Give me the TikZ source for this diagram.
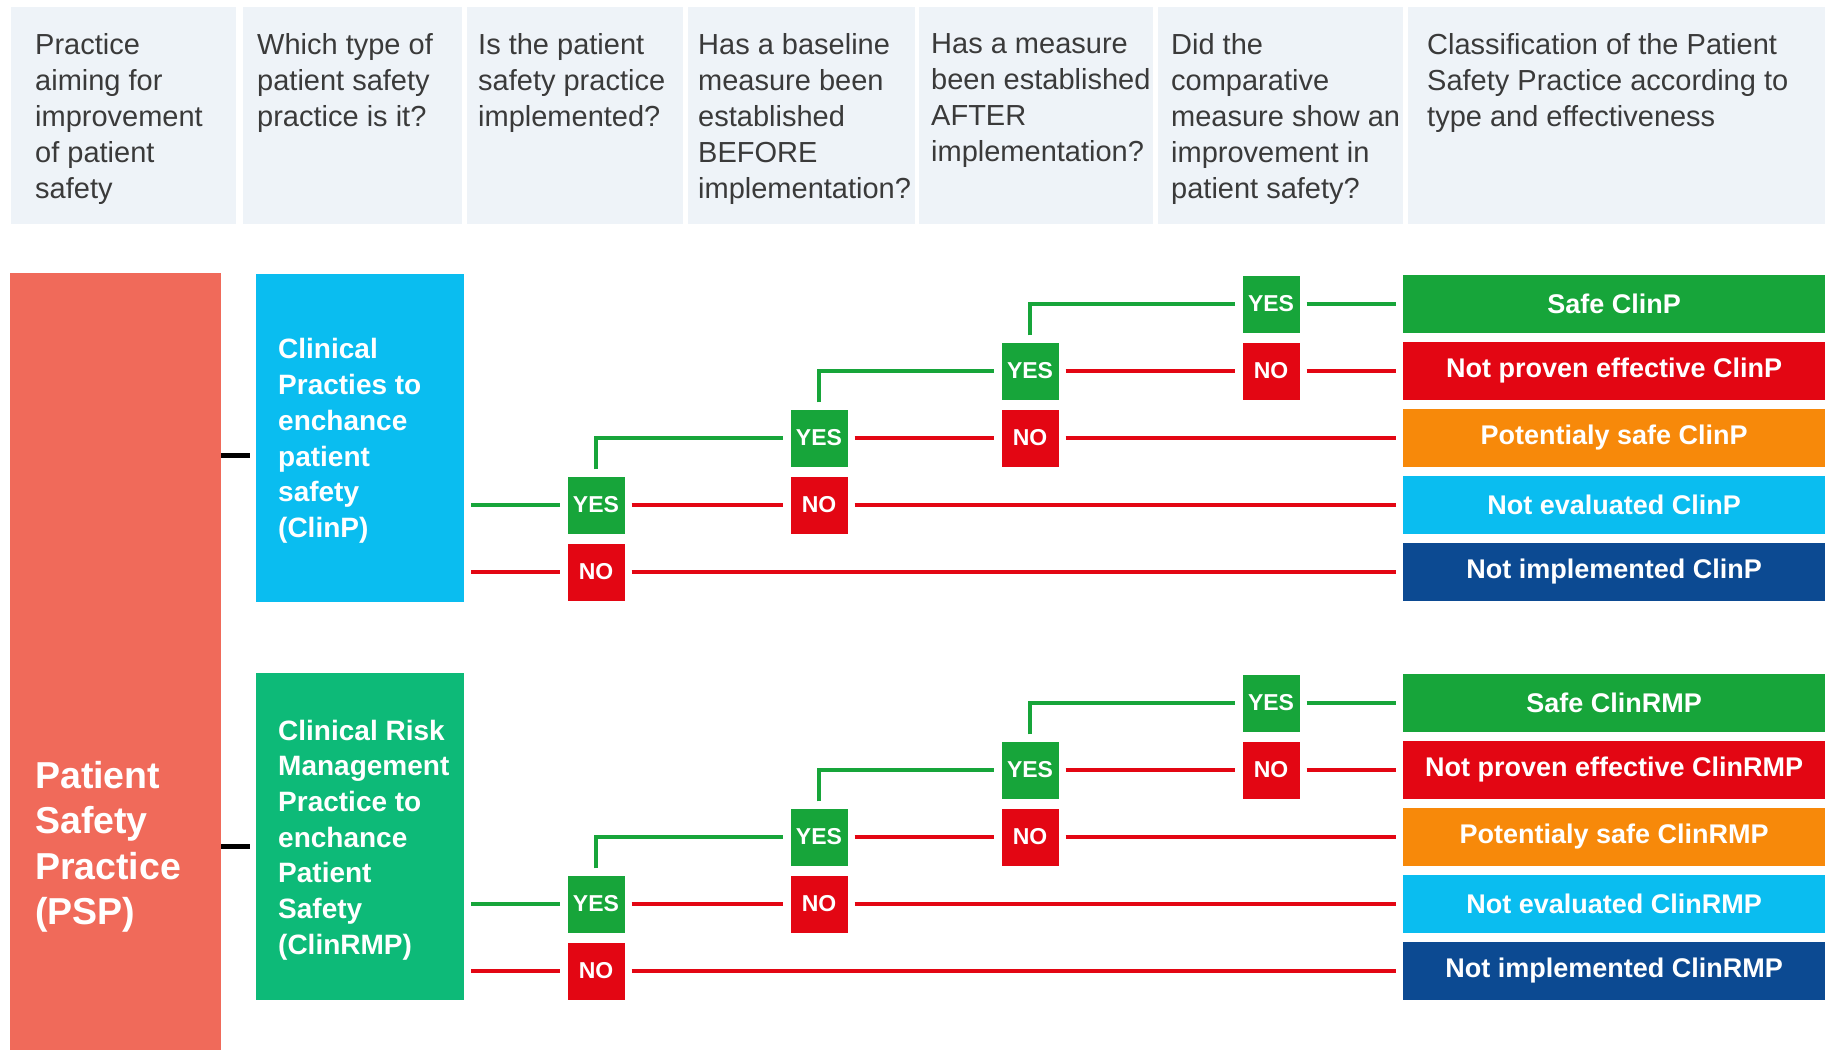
\documentclass[tikz,border=0pt]{standalone}
\usepackage{fontspec}
\setmainfont{Liberation Sans}
\usetikzlibrary{calc}
\definecolor{hdr}{HTML}{EEF3F8}
\definecolor{htx}{HTML}{3A3A3A}
\definecolor{psp}{HTML}{F06A5A}
\definecolor{cyanb}{HTML}{0ABDF0}
\definecolor{tealg}{HTML}{0DBA78}
\definecolor{gr}{HTML}{17A53A}
\definecolor{rd}{HTML}{E30613}
\definecolor{orng}{HTML}{F7890A}
\definecolor{navy}{HTML}{0C4A92}
\begin{document}
\begin{tikzpicture}[x=1pt,y=-1pt,
 cell/.style={fill=hdr, draw=none, inner sep=0, anchor=north west, minimum height=217pt},
 htext/.style={text=htx, font=\fontsize{29}{36}\selectfont, align=left, inner sep=0, anchor=north west},
 bigbox/.style={draw=none, inner sep=0, anchor=north west},
 btext/.style={text=white, font=\bfseries\fontsize{28}{35.7}\selectfont, align=left, inner sep=0, anchor=west},
 yesb/.style={fill=gr, text=white, font=\bfseries\fontsize{23}{23}\selectfont, minimum width=57pt, minimum height=57pt, inner sep=0},
 nob/.style={yesb, fill=rd},
 res/.style={text=white, font=\bfseries\fontsize{27}{27}\selectfont, minimum width=422pt, minimum height=58pt, inner sep=0, anchor=west},
 gl/.style={draw=gr, line width=4.2pt, shorten >=7pt, shorten <=7pt},
 rl/.style={gl, draw=rd},
 blk/.style={draw=black, line width=5pt},
]
\useasboundingbox (0,0) rectangle (1825,1050);
% header
\node[cell, minimum width=225pt] (h1) at (11,7) {};
\node[cell, minimum width=219pt] (h2) at (243,7) {};
\node[cell, minimum width=216pt] (h3) at (467,7) {};
\node[cell, minimum width=227pt] (h4) at (688,7) {};
\node[cell, minimum width=234pt] (h5) at (919,7) {};
\node[cell, minimum width=245pt] (h6) at (1158,7) {};
\node[cell, minimum width=417pt] (h7) at (1408,7) {};
\node[htext] (t1) at (35,33) {Practice\\aiming for\\improvement\\of patient\\safety};
\node[htext] (t2) at (257,33) {Which type of\\patient safety\\practice is it?};
\node[htext] (t3) at (478,33) {Is the patient\\safety practice\\implemented?};
\node[htext] (t4) at (698,33) {Has a baseline\\measure been\\established\\BEFORE\\implementation?};
\node[htext] (t5) at (931,33) {Has a measure\\been established\\AFTER\\implementation?};
\node[htext] (t6) at (1171,33) {Did the\\comparative\\measure show an\\improvement in\\patient safety?};
\node[htext] (t7) at (1427,33) {Classification of the Patient\\Safety Practice according to\\type and effectiveness};
% big boxes
\node[bigbox, fill=psp, minimum width=211pt, minimum height=777pt] (ps) at (10,273) {};
\node[text=white, font=\bfseries\fontsize{37.5}{45.5}\selectfont, align=left, inner sep=0, anchor=west] (pst) at (35,847) {Patient\\Safety\\Practice\\(PSP)};
\node[bigbox, fill=cyanb, minimum width=208pt, minimum height=328pt] (cp) at (256,274) {};
\node[btext] (cpt) at (278,441) {Clinical\\Practies to\\enchance\\patient\\safety\\(ClinP)};
\node[bigbox, fill=tealg, minimum width=208pt, minimum height=327pt] (cr) at (256,673) {};
\node[btext] (crt) at (278,840) {Clinical Risk\\Management\\Practice to\\enchance\\Patient\\Safety\\(ClinRMP)};
\coordinate (k1) at (250,455);
\coordinate (k2) at (250,846);
\draw[blk] (ps.east |- k1) -- (k1);
\draw[blk] (ps.east |- k2) -- (k2);
% ---------- top section ----------
\node[yesb] (a1y) at (596,505) {YES};
\node[nob]  (a1n) at (596,572) {NO};
\node[yesb] (b1y) at (819,438) {YES};
\node[nob]  (b1n) at (819,505) {NO};
\node[yesb] (c1y) at (1030,371) {YES};
\node[nob]  (c1n) at (1030,438) {NO};
\node[yesb] (d1y) at (1271,304) {YES};
\node[nob]  (d1n) at (1271,371) {NO};
\node[res, fill=gr]    (r11) at (1403,304) {Safe ClinP};
\node[res, fill=rd]    (r12) at (1403,371) {Not proven effective ClinP};
\node[res, fill=orng]  (r13) at (1403,438) {Potentialy safe ClinP};
\node[res, fill=cyanb] (r14) at (1403,505) {Not evaluated ClinP};
\node[res, fill=navy]  (r15) at (1403,572) {Not implemented ClinP};
\draw[gl] (cp.east |- a1y) -- (a1y);
\draw[rl] (cp.east |- a1n) -- (a1n);
\draw[gl] (a1y) |- (b1y);
\draw[rl] (a1y) -- (b1n);
\draw[rl] (a1n) -- (r15);
\draw[gl] (b1y) |- (c1y);
\draw[rl] (b1y) -- (c1n);
\draw[rl] (b1n) -- (r14);
\draw[gl] (c1y) |- (d1y);
\draw[rl] (c1y) -- (d1n);
\draw[rl] (c1n) -- (r13);
\draw[gl] (d1y) -- (r11);
\draw[rl] (d1n) -- (r12);
% ---------- bottom section ----------
\node[yesb] (a2y) at (596,904) {YES};
\node[nob]  (a2n) at (596,971) {NO};
\node[yesb] (b2y) at (819,837) {YES};
\node[nob]  (b2n) at (819,904) {NO};
\node[yesb] (c2y) at (1030,770) {YES};
\node[nob]  (c2n) at (1030,837) {NO};
\node[yesb] (d2y) at (1271,703) {YES};
\node[nob]  (d2n) at (1271,770) {NO};
\node[res, fill=gr]    (r21) at (1403,703) {Safe ClinRMP};
\node[res, fill=rd]    (r22) at (1403,770) {Not proven effective ClinRMP};
\node[res, fill=orng]  (r23) at (1403,837) {Potentialy safe ClinRMP};
\node[res, fill=cyanb] (r24) at (1403,904) {Not evaluated ClinRMP};
\node[res, fill=navy]  (r25) at (1403,971) {Not implemented ClinRMP};
\draw[gl] (cr.east |- a2y) -- (a2y);
\draw[rl] (cr.east |- a2n) -- (a2n);
\draw[gl] (a2y) |- (b2y);
\draw[rl] (a2y) -- (b2n);
\draw[rl] (a2n) -- (r25);
\draw[gl] (b2y) |- (c2y);
\draw[rl] (b2y) -- (c2n);
\draw[rl] (b2n) -- (r24);
\draw[gl] (c2y) |- (d2y);
\draw[rl] (c2y) -- (d2n);
\draw[rl] (c2n) -- (r23);
\draw[gl] (d2y) -- (r21);
\draw[rl] (d2n) -- (r22);
\end{tikzpicture}
\end{document}
